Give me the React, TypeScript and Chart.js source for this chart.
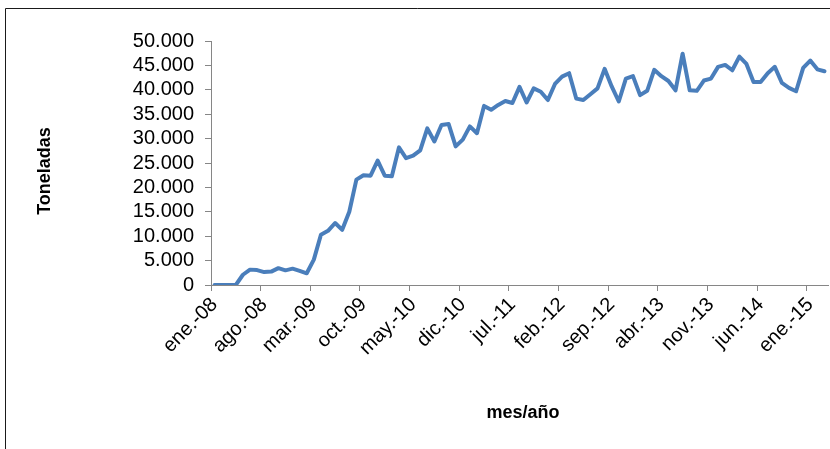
import React, { useEffect, useRef } from "react";
import { Chart, registerables } from "chart.js";

Chart.register(...registerables);

const MONTHS = ["ene.", "feb.", "mar.", "abr.", "may.", "jun.", "jul.", "ago.", "sep.", "oct.", "nov.", "dic."];
const START_YEAR = 2008;
const LABEL_EVERY = 7;

const TONELADAS = [
  0, 0, 0, 0, 2100, 3150, 3050, 2650, 2750, 3450, 3000, 3350,
  2900, 2400, 5200, 10300, 11100, 12700, 11300, 15000, 21600, 22500, 22400, 25500,
  22400, 22300, 28200, 26000, 26500, 27600, 32100, 29400, 32800, 33000, 28400, 29800,
  32500, 31100, 36700, 35900, 36900, 37700, 37300, 40600, 37400, 40300, 39600, 37900,
  41200, 42700, 43400, 38200, 37900, 39100, 40300, 44300, 40700, 37600, 42300, 42800,
  38900, 39800, 44100, 42800, 41800, 39900, 47400, 39900, 39800, 41900, 42300, 44700,
  45100, 44000, 46800, 45300, 41600, 41600, 43400, 44700, 41400, 40400, 39700, 44500,
  46000, 44200, 43800,
];

const CATEGORIES = TONELADAS.map((_, i) => {
  const m = i % 12;
  const y = (START_YEAR + Math.floor(i / 12)) % 100;
  return `${MONTHS[m]}-${String(y).padStart(2, "0")}`;
});

const Y_MIN = 0;
const Y_MAX = 50000;
const Y_STEP = 5000;

const Y_TITLE = "Toneladas";
const X_TITLE = "mes/año";

const FONT = "'Liberation Sans', Arial, sans-serif";
const AXIS_GRAY = "#868686";

const fmt = (v: number) => v.toLocaleString("de-DE");

export default function App() {
  const ref = useRef<HTMLCanvasElement | null>(null);

  useEffect(() => {
    if (!ref.current) return;
    const framePlugin = {
      id: "frameAndTitles",
      beforeDraw(chart: any) {
        const ctx = chart.ctx;
        ctx.save();
        ctx.fillStyle = "#ffffff";
        ctx.fillRect(0, 0, chart.width, chart.height);
        ctx.strokeStyle = "#1a1a1a";
        ctx.lineWidth = 1;
        ctx.beginPath();
        ctx.moveTo(5.5, chart.height);
        ctx.lineTo(5.5, 8.5);
        ctx.lineTo(chart.width, 8.5);
        ctx.stroke();
        ctx.restore();
      },
      afterDraw(chart: any) {
        const ctx = chart.ctx;
        ctx.save();
        ctx.fillStyle = "#000000";
        ctx.font = `bold 18px ${FONT}`;
        ctx.textAlign = "center";
        ctx.textBaseline = "middle";
        ctx.fillText(X_TITLE, 523, 413);
        ctx.translate(45, 171);
        ctx.rotate(-Math.PI / 2);
        ctx.fillText(Y_TITLE, 0, 0);
        ctx.restore();
      },
    };

    const chart = new Chart(ref.current, {
      type: "line",
      data: {
        labels: CATEGORIES,
        datasets: [
          {
            data: TONELADAS,
            borderColor: "#4a7ebb",
            borderWidth: 4,
            pointRadius: 0,
            tension: 0,
            borderJoinStyle: "round",
            borderCapStyle: "round",
            fill: false,
          },
        ],
      },
      options: {
        animation: false,
        responsive: false,
        events: [],
        layout: { padding: { top: 41, right: 2, left: 0, bottom: 0 } },
        plugins: { legend: { display: false }, tooltip: { enabled: false }, title: { display: false } },
        scales: {
          x: {
            type: "category",
            offset: true,
            border: { display: true, color: AXIS_GRAY, width: 1 },
            grid: {
              offset: true,
              drawOnChartArea: false,
              drawTicks: true,
              tickLength: 6,
              color: (ctx: any) => (ctx.index % LABEL_EVERY === 0 ? AXIS_GRAY : "rgba(0,0,0,0)"),
            },
            ticks: {
              autoSkip: false,
              minRotation: 45,
              maxRotation: 45,
              padding: 2,
              color: "#000000",
              font: { family: FONT, size: 20 },
              callback: (_v: any, i: number) => (i % LABEL_EVERY === 0 ? CATEGORIES[i] : ""),
            },
            afterFit: (scale: any) => {
              scale.height = 449 - 285;
              scale.paddingLeft = 0;
              scale.paddingRight = 0;
            },
          },
          y: {
            min: Y_MIN,
            max: Y_MAX,
            border: { display: true, color: AXIS_GRAY, width: 1 },
            grid: { drawOnChartArea: false, drawTicks: true, tickLength: 6, color: AXIS_GRAY },
            ticks: {
              stepSize: Y_STEP,
              autoSkip: false,
              padding: 11,
              color: "#000000",
              font: { family: FONT, size: 20 },
              callback: (v: any) => fmt(Number(v)),
            },
            afterFit: (scale: any) => {
              scale.width = 211;
            },
          },
        },
      },
      plugins: [framePlugin],
    });
    return () => chart.destroy();
  }, []);

  return (
    <div style={{ position: "fixed", left: 0, top: 0, width: 830, height: 449, overflow: "hidden", background: "#fff" }}>
      <canvas ref={ref} width={830} height={449} style={{ display: "block", width: 830, height: 449 }} />
    </div>
  );
}
